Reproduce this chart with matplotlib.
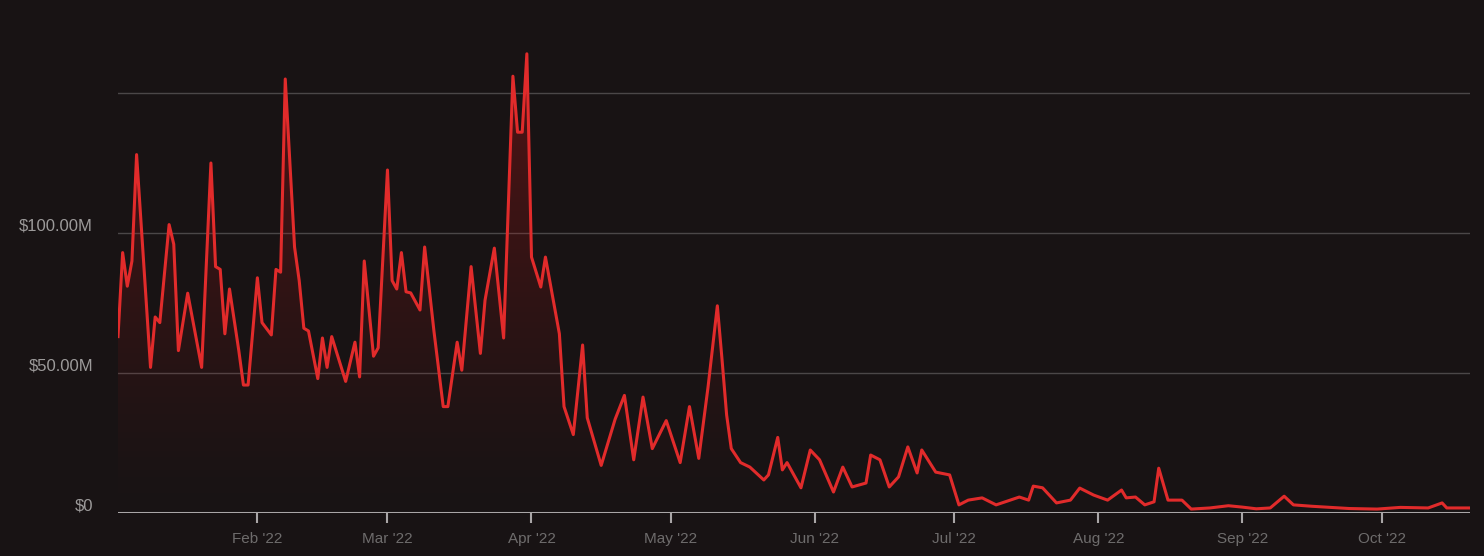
import matplotlib.pyplot as plt
import matplotlib.dates as mdates
import matplotlib.transforms as mtransforms
import numpy as np
import pandas as pd

# day offsets from 2022-01-01 and volume in $M
days = [1, 2, 3, 4, 5, 8, 9, 10, 12, 13, 14, 16, 19, 21, 22, 23, 24, 25, 27, 28, 29,
        31, 32, 34, 35, 36, 37, 38, 39, 40, 41, 42, 44, 45, 46, 47, 50, 52, 53, 54,
        56, 57, 59, 60, 61, 62, 63, 64, 66, 67, 69, 71, 72, 74, 75, 77, 79, 80, 82,
        84, 86, 87, 88, 89, 90, 92, 93, 96, 97, 99, 101, 102, 105, 108, 110, 112,
        114, 116, 119, 122, 124, 126, 128, 130, 131, 132, 133, 135, 137, 140, 141,
        143, 144, 145, 148, 150, 152, 155, 157, 159, 162, 163, 165, 167, 169, 171,
        173, 174, 177, 180, 182, 184, 187, 190, 195, 197, 198, 200, 203, 206, 208,
        211, 214, 217, 218, 220, 222, 224, 225, 227, 230, 232, 236, 240, 243, 246,
        249, 252, 254, 258, 261, 266, 272, 277, 283, 286, 287, 292]
volume = [63, 93, 81, 90, 128, 52, 70, 68, 103, 96, 58, 78.5, 52, 125, 88, 87, 64, 80, 58, 45.7, 45.7,
          84, 68, 63.6, 87, 86, 155, 125, 95, 83, 66, 65, 48, 62.5, 52, 63, 47, 61, 48.6, 90,
          56, 59, 122.5, 83, 80, 93, 79, 78.6, 72.5, 95, 65, 38, 38, 61, 51, 88, 57, 76, 94.6,
          62.5, 156, 136, 136, 164, 91.4, 80.7, 91.4, 64, 38, 28, 60, 34, 17, 33.5, 42, 19,
          41.4, 23, 33, 18, 38, 19.5, 45, 74, 55, 35, 23, 18, 16.4, 11.8, 13.6,
          27, 15.4, 18, 9, 22.5, 19, 7.5, 16.4, 9.3, 10.7, 20.7, 19, 9.3, 12.9, 23.6,
          14.3, 22.5, 14.6, 13.6, 2.9, 4.6, 5.4, 2.9, 5.7, 4.6, 9.6, 9, 3.6, 4.6, 8.9,
          6.4, 4.6, 8.2, 5.4, 5.7, 2.9, 4, 16, 4.6, 4.6, 1.4, 1.8, 2.6, 2.1, 1.5,
          1.8, 6, 2.9, 2.4, 2.1, 1.6, 1.4, 2.0, 1.8, 3.6, 1.8, 1.8]

dates = pd.Timestamp('2022-01-01') + pd.to_timedelta(days, unit='D')
y_ticks = [0, 50, 100]
y_tick_labels = ['$0', '$50.00M', '$100.00M']
grid_levels = [50, 100, 150]

bg = '#181314'
line_color = '#e12b2b'
plt.rcParams['font.family'] = ['Liberation Sans', 'DejaVu Sans']

fig = plt.figure(figsize=(14.84, 5.56), dpi=100, facecolor=bg)
ax = fig.add_axes([118 / 1484, 43 / 556, (1470 - 118) / 1484, 1 - 43 / 556])
ax.set_facecolor(bg)

x = mdates.date2num(dates)
x0, x1 = x[0], x[-1]
ymax = 513 / 2.8
ax.set_xlim(x0, x1)
ax.set_ylim(0, ymax)

for g in grid_levels:
    ax.axhline(g, color='#4b4748', lw=1.0, zorder=1)

# gradient fill under the line
grad = np.linspace(0, 1, 256).reshape(-1, 1)
colors = np.zeros((256, 1, 4))
colors[..., 0] = 0.75
colors[..., 1] = 0.08
colors[..., 2] = 0.08
colors[..., 3] = 0.35 * grad ** 1.2
img = ax.imshow(colors, extent=[x0, x1, 0, max(volume)], origin='lower',
                aspect='auto', zorder=2)
poly = ax.fill_between(x, volume, 0, color='none')
clip = poly.get_paths()[0]
img.set_clip_path(clip, transform=ax.transData)

ax.plot(x, volume, color=line_color, lw=2.2, zorder=3, solid_joinstyle='round')
ax.axhline(0, color='#a9a6a7', lw=2.2, zorder=4)

for s in ax.spines.values():
    s.set_visible(False)

ax.xaxis.set_major_locator(mdates.MonthLocator())
ax.xaxis.set_major_formatter(mdates.DateFormatter("%b '%y"))
ax.tick_params(axis='x', colors='#a9a6a7', length=7, width=1.5, pad=7,
               labelsize=11, labelcolor='#6e6c6c')

ax.set_yticks(y_ticks)
ax.set_yticklabels(y_tick_labels)
ax.tick_params(axis='y', length=0, pad=18, labelsize=12, labelcolor='#9c9a9a')
offset = mtransforms.ScaledTranslation(0, 9 / 100, fig.dpi_scale_trans)
for lab in ax.get_yticklabels():
    lab.set_transform(lab.get_transform() + offset)

fig.savefig('out.png', dpi=100, facecolor=bg)
